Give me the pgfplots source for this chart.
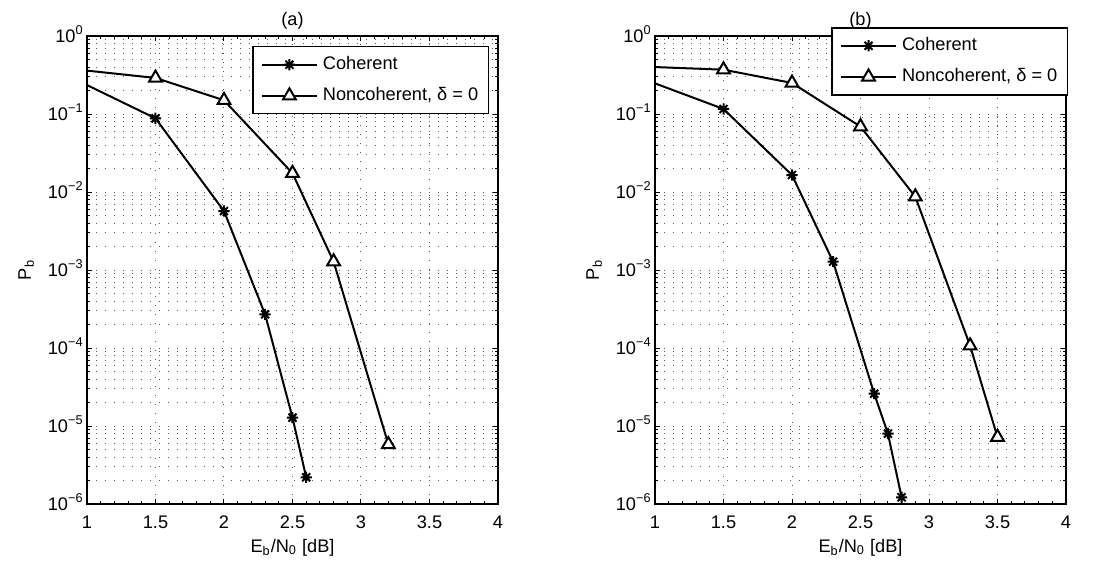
\documentclass[border=0pt]{standalone}
\usepackage{pgfplots}
\pgfplotsset{compat=1.18}
\usepackage{fontspec}
\setmainfont{Liberation Sans}
\newcommand\fs{\fontsize{9.1}{11}\selectfont}

\pgfdeclareplotmark{mstar}{%
 \pgfpathmoveto{\pgfqpoint{0pt}{\pgfplotmarksize}}\pgfpathlineto{\pgfqpoint{0pt}{-\pgfplotmarksize}}%
 \pgfpathmoveto{\pgfqpoint{\pgfplotmarksize}{0pt}}\pgfpathlineto{\pgfqpoint{-\pgfplotmarksize}{0pt}}%
 \pgfpathmoveto{\pgfqpoint{0.707\pgfplotmarksize}{0.707\pgfplotmarksize}}\pgfpathlineto{\pgfqpoint{-0.707\pgfplotmarksize}{-0.707\pgfplotmarksize}}%
 \pgfpathmoveto{\pgfqpoint{0.707\pgfplotmarksize}{-0.707\pgfplotmarksize}}\pgfpathlineto{\pgfqpoint{-0.707\pgfplotmarksize}{0.707\pgfplotmarksize}}%
 \pgfusepathqstroke}

\pgfplotsset{
 legend image code/.code={\draw[#1, mark repeat=2, mark phase=2] plot coordinates {(0pt,0pt) (13.75pt,0pt) (27.5pt,0pt)};},
 major grid style={black!65, line width=0.5pt, dash pattern=on 0.5pt off 4pt},
 minor grid style={black!65, line width=0.5pt, dash pattern=on 0.5pt off 4pt},
 every tick/.style={black, line width=0.5pt},
 tick label style={font=\fs},
 label style={font=\fs},
 title style={font=\fs},
}

\begin{document}
\begin{tikzpicture}
\useasboundingbox (-43.5pt,-30pt) rectangle (506.5pt,252pt);
\begin{axis}[at={(0pt,0pt)}, anchor=south west, title={(a)},
  scale only axis, width=205.5pt, height=234pt,
  xmin=1, xmax=4, ymode=log, ymin=1e-6, ymax=1,
  xtick={1,1.5,2,2.5,3,3.5,4},
  xticklabels={1,1.5,2,2.5,3,3.5,4},
  minor x tick num=4,
  ytick={1e-6,1e-5,1e-4,1e-3,1e-2,1e-1,1},
  yticklabels={10\textsuperscript{−6},10\textsuperscript{−5},10\textsuperscript{−4},10\textsuperscript{−3},10\textsuperscript{−2},10\textsuperscript{−1},10\textsuperscript{0}},
  minor ytick={2e-6,3e-6,4e-6,5e-6,6e-6,7e-6,8e-6,9e-6,
   2e-5,3e-5,4e-5,5e-5,6e-5,7e-5,8e-5,9e-5,
   2e-4,3e-4,4e-4,5e-4,6e-4,7e-4,8e-4,9e-4,
   2e-3,3e-3,4e-3,5e-3,6e-3,7e-3,8e-3,9e-3,
   2e-2,3e-2,4e-2,5e-2,6e-2,7e-2,8e-2,9e-2,
   0.2,0.3,0.4,0.5,0.6,0.7,0.8,0.9},
  xmajorgrids=true, ymajorgrids=true, yminorgrids=true, xminorgrids=false,
  tick align=inside, major tick length=2.4pt, minor tick length=1.5pt,
  axis line style={black, line width=0.7pt},
  xticklabel style={anchor=base, inner sep=0pt, yshift=-12pt},
  yticklabel style={anchor=base east, inner sep=0pt, xshift=-1.5pt, yshift=-3.3pt},
  xlabel={E\textsubscript{b}/N\textsubscript{0} [dB]},
  ylabel={P\textsubscript{b}},
  xlabel style={at={(axis description cs:0.5,0)}, anchor=base, yshift=-24pt},
  ylabel style={at={(axis description cs:-0.148,0.5)}, anchor=center},
  title style={at={(axis description cs:0.5,1)}, anchor=base, yshift=-0.5pt},
  legend cell align=left,
  legend style={at={(0.978,0.9786)}, anchor=north east, draw=black, line width=0.7pt, fill=white, font=\fs,
   inner xsep=4pt, inner ysep=3.5pt, row sep=4.5pt,
   /tikz/every odd column/.append style={column sep=1.5pt},
   nodes={inner sep=1pt, text height=7pt, text depth=2pt}}]
\addplot[black, line width=1pt, mark=mstar, mark size=2.8pt, mark repeat=1, mark phase=2, mark options={line width=1pt}]
 coordinates {(1,0.235) (1.5,0.088) (2,5.7e-3) (2.3,2.7e-4) (2.5,1.28e-5) (2.6,2.2e-6)};
\addlegendentry{Coherent}
\addplot[black, line width=1pt, mark=triangle*, mark size=3.7pt, mark repeat=1, mark phase=2, mark options={fill=white, line width=1pt}]
 coordinates {(1,0.36) (1.5,0.29) (2,0.15) (2.5,0.0174) (2.8,1.28e-3) (3.2,5.8e-6)};
\addlegendentry{Noncoherent, δ = 0}
\end{axis}
\begin{axis}[at={(284pt,0pt)}, anchor=south west, title={(b)},
  scale only axis, width=205.5pt, height=234pt,
  xmin=1, xmax=4, ymode=log, ymin=1e-6, ymax=1,
  xtick={1,1.5,2,2.5,3,3.5,4},
  xticklabels={1,1.5,2,2.5,3,3.5,4},
  minor x tick num=4,
  ytick={1e-6,1e-5,1e-4,1e-3,1e-2,1e-1,1},
  yticklabels={10\textsuperscript{−6},10\textsuperscript{−5},10\textsuperscript{−4},10\textsuperscript{−3},10\textsuperscript{−2},10\textsuperscript{−1},10\textsuperscript{0}},
  minor ytick={2e-6,3e-6,4e-6,5e-6,6e-6,7e-6,8e-6,9e-6,
   2e-5,3e-5,4e-5,5e-5,6e-5,7e-5,8e-5,9e-5,
   2e-4,3e-4,4e-4,5e-4,6e-4,7e-4,8e-4,9e-4,
   2e-3,3e-3,4e-3,5e-3,6e-3,7e-3,8e-3,9e-3,
   2e-2,3e-2,4e-2,5e-2,6e-2,7e-2,8e-2,9e-2,
   0.2,0.3,0.4,0.5,0.6,0.7,0.8,0.9},
  xmajorgrids=true, ymajorgrids=true, yminorgrids=true, xminorgrids=false,
  tick align=inside, major tick length=2.4pt, minor tick length=1.5pt,
  axis line style={black, line width=0.7pt},
  xticklabel style={anchor=base, inner sep=0pt, yshift=-12pt},
  yticklabel style={anchor=base east, inner sep=0pt, xshift=-1.5pt, yshift=-3.3pt},
  xlabel={E\textsubscript{b}/N\textsubscript{0} [dB]},
  ylabel={P\textsubscript{b}},
  xlabel style={at={(axis description cs:0.5,0)}, anchor=base, yshift=-24pt},
  ylabel style={at={(axis description cs:-0.148,0.5)}, anchor=center},
  title style={at={(axis description cs:0.5,1)}, anchor=base, yshift=-0.5pt},
  legend cell align=left,
  legend style={at={(1.005,1.019)}, anchor=north east, draw=black, line width=0.7pt, fill=white, font=\fs,
   inner xsep=4pt, inner ysep=3.5pt, row sep=4.5pt,
   /tikz/every odd column/.append style={column sep=1.5pt},
   nodes={inner sep=1pt, text height=7pt, text depth=2pt}}]
\addplot[black, line width=1pt, mark=mstar, mark size=2.8pt, mark repeat=1, mark phase=2, mark options={line width=1pt}]
 coordinates {(1,0.247) (1.5,0.116) (2,0.0165) (2.3,1.28e-3) (2.6,2.6e-5) (2.7,8.0e-6) (2.8,1.22e-6)};
\addlegendentry{Coherent}
\addplot[black, line width=1pt, mark=triangle*, mark size=3.7pt, mark repeat=1, mark phase=2, mark options={fill=white, line width=1pt}]
 coordinates {(1,0.40) (1.5,0.37) (2,0.25) (2.5,0.069) (2.9,8.7e-3) (3.3,1.07e-4) (3.5,7.2e-6)};
\addlegendentry{Noncoherent, δ = 0}
\end{axis}
\end{tikzpicture}
\end{document}
